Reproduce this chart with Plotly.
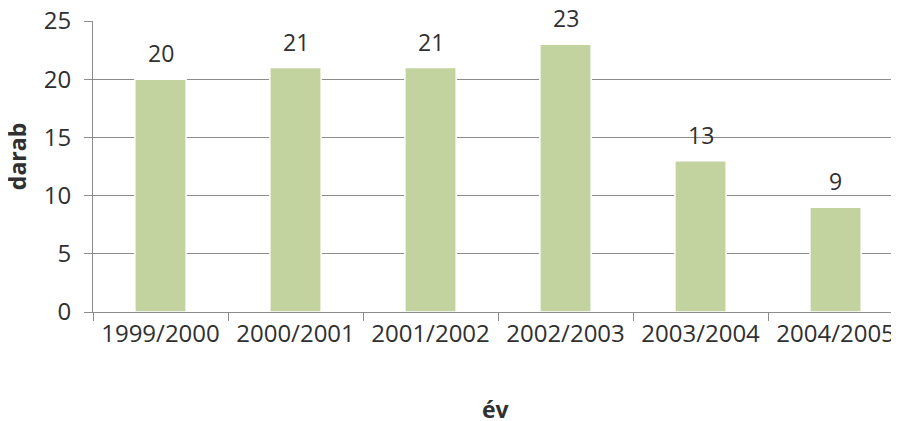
import plotly.graph_objects as go

categories = ["1999/2000", "2000/2001", "2001/2002", "2002/2003", "2003/2004", "2004/2005"]
values = [20, 21, 21, 23, 13, 9]
y_ticks = [0, 5, 10, 15, 20, 25]

FONT = "Open Sans"
TXT = "#303030"
GRID = "#8C8C8C"

fig = go.Figure(
    go.Bar(
        x=categories,
        y=values,
        width=0.38,
        marker=dict(color="#C2D3A0", line=dict(color="white", width=1.5)),
        cliponaxis=False,
        hoverinfo="x+y",
    )
)

for c, v in zip(categories, values):
    fig.add_annotation(
        x=c, y=v, xref="x", yref="y", text=str(v), showarrow=False,
        yanchor="middle", yshift=26,
        font=dict(family=FONT, size=23, color=TXT),
    )

fig.add_annotation(
    x=0.5, xref="paper", y=-0.332, yref="paper", text="<b>év</b>", showarrow=False,
    xanchor="center", yanchor="middle", font=dict(family=FONT, size=23, color=TXT),
)
fig.add_annotation(
    x=-0.094, xref="paper", y=0.533, yref="paper", text="<b>darab</b>", showarrow=False,
    textangle=-90, xanchor="center", yanchor="middle",
    font=dict(family=FONT, size=23, color=TXT),
)

fig.update_layout(
    width=899,
    height=421,
    margin=dict(l=85, r=8, t=13, b=117),
    paper_bgcolor="white",
    plot_bgcolor="white",
    showlegend=False,
    font=dict(family=FONT, size=24, color=TXT),
    xaxis=dict(
        range=[-0.5, 5.47],
        automargin=False,
        showline=True,
        linecolor=GRID,
        linewidth=1,
        ticks="outside",
        ticklen=8,
        tickcolor=GRID,
        tickson="boundaries",
        showgrid=False,
        ticklabeloverflow="allow",
        tickfont=dict(family=FONT, size=24, color=TXT),
    ),
    yaxis=dict(
        range=[0, 25],
        automargin=False,
        tickvals=y_ticks,
        showline=True,
        linecolor=GRID,
        linewidth=1,
        ticks="outside",
        ticklen=8,
        tickcolor=GRID,
        showgrid=True,
        gridcolor=GRID,
        gridwidth=1,
        zeroline=False,
        ticklabeloverflow="allow",
        tickfont=dict(family=FONT, size=24, color=TXT),
        ticklabelstandoff=8,
    ),
)

fig.write_html("out.html")
